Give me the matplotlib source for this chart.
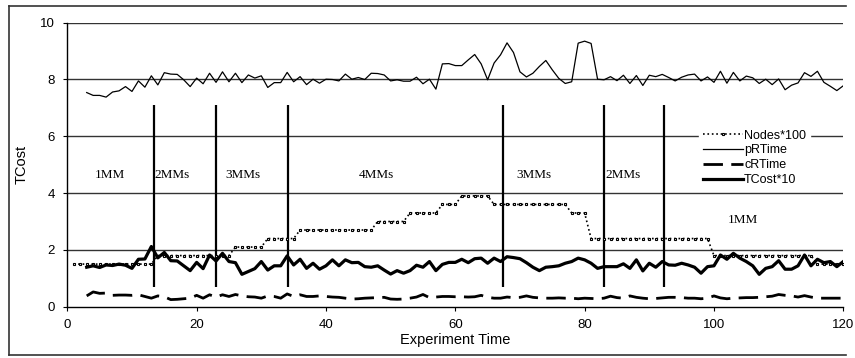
import numpy as np
import matplotlib
matplotlib.use("Agg")
import matplotlib.pyplot as plt
from matplotlib.lines import Line2D

# valeurs
time_nodes = list(range(1, 121))
nodes_levels = [(13, 1.5), (12, 1.8), (5, 2.1), (5, 2.4), (12, 2.7), (5, 3.0),
                (5, 3.3), (3, 3.6), (5, 3.9), (12, 3.6), (3, 3.3), (19, 2.4),
                (16, 1.8), (5, 1.5)]
nodes100 = [v for n, v in nodes_levels for _ in range(n)]

time = list(range(3, 121))
prtime = [7.54, 7.44, 7.44, 7.38, 7.56, 7.60, 7.75, 7.58, 7.95, 7.73,
          8.13, 7.81, 8.24, 8.19, 8.18, 7.99, 7.75, 8.05, 7.85, 8.22,
          7.90, 8.27, 7.92, 8.22, 7.89, 8.16, 8.05, 8.13, 7.72, 7.89,
          7.89, 8.25, 7.92, 8.10, 7.82, 8.01, 7.87, 8.01, 8.00, 7.95,
          8.19, 8.01, 8.07, 8.00, 8.22, 8.21, 8.16, 7.95, 7.99, 7.94,
          7.94, 8.08, 7.85, 8.01, 7.66, 8.55, 8.56, 8.49, 8.49, 8.69,
          8.88, 8.55, 7.99, 8.58, 8.87, 9.29, 8.95, 8.27, 8.09, 8.22,
          8.46, 8.67, 8.34, 8.04, 7.86, 7.92, 9.28, 9.35, 9.27, 8.01,
          7.99, 8.10, 7.96, 8.15, 7.86, 8.14, 7.79, 8.15, 8.10, 8.18,
          8.07, 7.95, 8.08, 8.16, 8.19, 7.95, 8.09, 7.90, 8.29, 7.87,
          8.25, 7.95, 8.12, 8.06, 7.86, 8.01, 7.82, 8.02, 7.64, 7.80,
          7.88, 8.24, 8.11, 8.29, 7.90, 7.76, 7.61, 7.78]
crtime = [0.38, 0.52, 0.47, 0.48, 0.40, 0.41, 0.41, 0.40, 0.42, 0.36,
          0.30, 0.38, 0.35, 0.25, 0.26, 0.28, 0.30, 0.40, 0.30, 0.42,
          0.34, 0.42, 0.36, 0.43, 0.38, 0.35, 0.34, 0.30, 0.38, 0.36,
          0.30, 0.45, 0.36, 0.42, 0.36, 0.36, 0.38, 0.36, 0.34, 0.33,
          0.30, 0.27, 0.28, 0.30, 0.31, 0.32, 0.33, 0.27, 0.26, 0.27,
          0.30, 0.34, 0.43, 0.32, 0.34, 0.36, 0.36, 0.35, 0.35, 0.34,
          0.35, 0.40, 0.33, 0.30, 0.30, 0.34, 0.32, 0.33, 0.38, 0.33,
          0.31, 0.30, 0.30, 0.31, 0.30, 0.30, 0.28, 0.30, 0.29, 0.28,
          0.30, 0.37, 0.32, 0.30, 0.38, 0.33, 0.30, 0.28, 0.29, 0.31,
          0.33, 0.33, 0.32, 0.30, 0.30, 0.28, 0.30, 0.38, 0.31, 0.28,
          0.30, 0.31, 0.32, 0.32, 0.33, 0.35, 0.37, 0.43, 0.40, 0.38,
          0.34, 0.39, 0.34, 0.30, 0.30, 0.30, 0.30, 0.30]
tcost10 = [1.39, 1.44, 1.38, 1.47, 1.45, 1.50, 1.46, 1.35, 1.67, 1.68,
           2.12, 1.72, 1.91, 1.62, 1.61, 1.44, 1.27, 1.56, 1.34, 1.82,
           1.61, 1.88, 1.59, 1.55, 1.14, 1.24, 1.34, 1.59, 1.29, 1.44,
           1.44, 1.79, 1.47, 1.67, 1.35, 1.53, 1.32, 1.44, 1.65, 1.44,
           1.65, 1.55, 1.56, 1.41, 1.39, 1.44, 1.29, 1.15, 1.27, 1.18,
           1.27, 1.46, 1.39, 1.59, 1.27, 1.49, 1.56, 1.56, 1.67, 1.55,
           1.69, 1.71, 1.53, 1.71, 1.59, 1.76, 1.73, 1.69, 1.55, 1.39,
           1.27, 1.39, 1.41, 1.44, 1.53, 1.59, 1.71, 1.65, 1.53, 1.35,
           1.41, 1.41, 1.41, 1.51, 1.35, 1.65, 1.26, 1.53, 1.39, 1.59,
           1.47, 1.46, 1.53, 1.47, 1.39, 1.18, 1.41, 1.44, 1.82, 1.67,
           1.88, 1.71, 1.59, 1.44, 1.14, 1.35, 1.41, 1.62, 1.32, 1.32,
           1.44, 1.82, 1.44, 1.67, 1.55, 1.59, 1.41, 1.59]

phase_bounds = [13.4, 23.0, 34.2, 67.4, 83.0, 92.2]
phase_names = ["1MM", "2MMs", "3MMs", "4MMs", "3MMs", "2MMs", "1MM"]
phase_x = [6.6, 16.2, 27.2, 47.8, 72.1, 86.0, 104.4]
phase_y = [4.65, 4.65, 4.65, 4.65, 4.65, 4.65, 3.06]

plt.rcParams['font.family'] = ['Liberation Sans', 'DejaVu Sans']

fig = plt.figure(figsize=(8.55, 3.58), dpi=100)
ax = fig.add_axes([67.3 / 855, 1 - 306.7 / 358, 776 / 855, 284 / 358])

# cadre autour de la figure
for xs, ys in [([9, 846], [5.7, 5.7]), ([9, 9], [5.7, 355]), ([9, 846], [355, 355])]:
    fig.add_artist(Line2D([x / 855 for x in xs], [1 - y / 358 for y in ys],
                          color='#333333', lw=1.2))

for y in [2, 4, 6, 8, 10]:
    ax.axhline(y, color='#333333', lw=1.0, zorder=1)

ax.vlines(phase_bounds, 0.7, 7.1, color='black', lw=1.6, zorder=2)
for name, px, py in zip(phase_names, phase_x, phase_y):
    ax.text(px, py, name, ha='center', va='center', fontsize=9.5,
            family='Liberation Serif')

ax.plot(time_nodes, nodes100, ls=':', color='black', lw=1.2, marker='s',
        ms=2.0, mfc='white', mec='black', mew=0.8, label='Nodes*100', zorder=3)
ax.plot(time, prtime, color='black', lw=0.9, label='pRTime', zorder=3)
ax.plot(time, crtime, color='black', lw=2.0, ls=(0, (7, 3)), label='cRTime', zorder=3)
ax.plot(time, tcost10, color='black', lw=2.3, label='TCost*10', zorder=3)

ax.set_xlim(0, 120)
ax.set_ylim(0, 10)
ax.set_xticks(range(0, 121, 20))
ax.set_yticks(range(0, 11, 2))
for s in ['top', 'right']:
    ax.spines[s].set_visible(False)
ax.spines['left'].set_linewidth(1.0)
ax.spines['bottom'].set_linewidth(1.0)
ax.tick_params(labelsize=9.5, length=3, width=0.8, pad=6)
ax.set_xlabel('Experiment Time', fontsize=10.5, labelpad=1)
ax.set_ylabel('TCost', fontsize=10.5, labelpad=8)

leg = ax.legend(loc='upper left', bbox_to_anchor=(699 / 855, 1 - 126 / 358),
                bbox_transform=fig.transFigure, fontsize=9, frameon=True,
                fancybox=False, edgecolor='white', facecolor='white',
                framealpha=1, handlelength=3.2, handletextpad=0.1,
                labelspacing=0.22, borderpad=0.3, borderaxespad=0)
leg.set_zorder(5)

fig.savefig('out.png', dpi=100)
